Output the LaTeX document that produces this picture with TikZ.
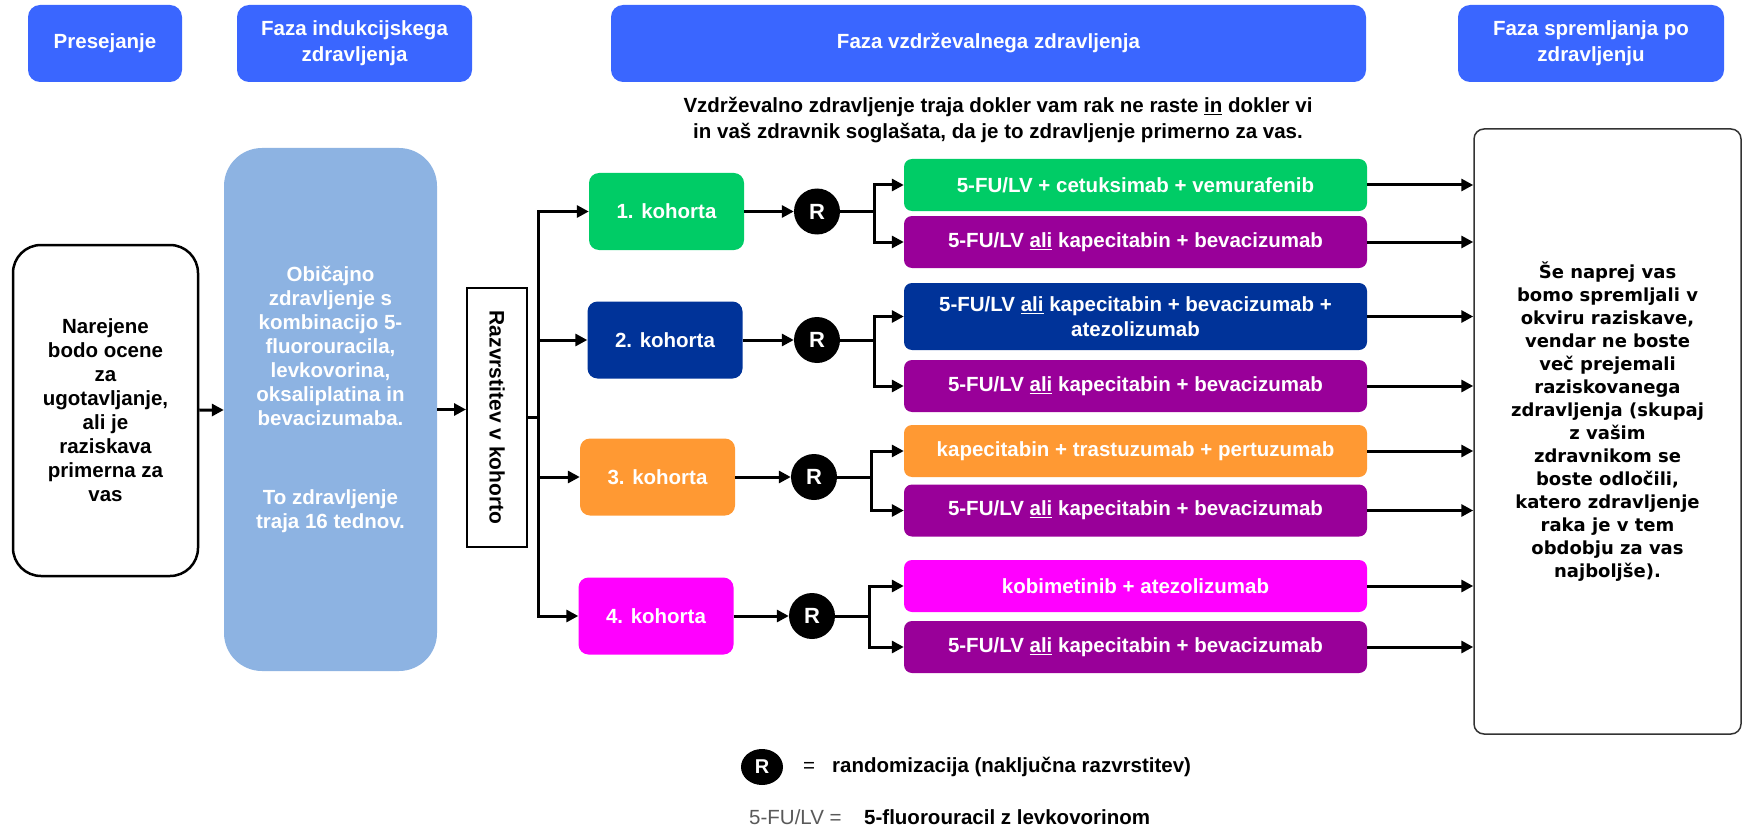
\documentclass[tikz,border=0pt]{standalone}
\usepackage{fontspec}
\setmainfont{Liberation Sans}
\newfontfamily\wideface{DejaVu Sans}
\usepackage{tikz}
\usetikzlibrary{shapes.geometric,arrows.meta,positioning,calc}

\definecolor{hdrblue}{HTML}{3A66FF}
\definecolor{indblue}{HTML}{8DB3E2}
\definecolor{cohgreen}{HTML}{00CC66}
\definecolor{cohblue}{HTML}{003399}
\definecolor{cohpurple}{HTML}{990099}
\definecolor{cohorange}{HTML}{FF9933}
\definecolor{cohmagenta}{HTML}{FF00FF}

\begin{document}
\begin{tikzpicture}[
  x=1pt, y=-1pt,
  every node/.style={font=\bfseries\fontsize{20.5}{25}\selectfont, inner sep=0pt},
  hdrbox/.style={fill=hdrblue, text=white, rounded corners=12pt, align=center, minimum height=77pt, font=\bfseries\fontsize{20.5}{26}\selectfont},
  cohbox/.style={rounded corners=10pt, text=white, minimum width=155pt, minimum height=77pt},
  trtbox/.style={rounded corners=8pt, text=white, align=center, minimum width=463pt, minimum height=52pt},
  rnd/.style={circle, fill=black, text=white, minimum size=46pt, font=\bfseries\fontsize{22}{22}\selectfont},
  arr/.style={-{Triangle[length=12pt,width=12pt]}, line width=3pt},
  ln/.style={line width=3pt}
]
\useasboundingbox (0,0) rectangle (1744,829);

\node[hdrbox, minimum width=154pt] (pres) at (105,43.5) {Presejanje};
\node[hdrbox, minimum width=235pt] (indh) at (354.5,43.5) {Faza indukcijskega\\zdravljenja};
\node[hdrbox, minimum width=755pt] (vzdh) at (988.5,43.5) {Faza vzdrževalnega zdravljenja};
\node[hdrbox, minimum width=266pt] (sprh) at (1591,43.5) {Faza spremljanja po\\zdravljenju};

\node[align=center, font=\bfseries\fontsize{20.5}{26}\selectfont] (note) at (998,120)
  {Vzdrževalno zdravljenje traja dokler vam rak ne raste \underline{in} dokler vi\\in vaš zdravnik soglašata, da je to zdravljenje primerno za vas.};

\node[draw, line width=2.5pt, rounded corners=28pt, minimum width=185pt, minimum height=331pt, align=center, font=\bfseries\fontsize{20.5}{24}\selectfont] (scr) at (105.5,410.5)
  {Narejene\\bodo ocene\\za\\ugotavljanje,\\ali je\\raziskava\\primerna za\\vas};
\node[fill=indblue, text=white, rounded corners=38pt, minimum width=213pt, minimum height=523pt, align=center, font=\bfseries\fontsize{20.5}{24}\selectfont] (ind) at (330.5,409.5)
  {Običajno\\zdravljenje s\\kombinacijo 5-\\fluorouracila,\\levkovorina,\\oksaliplatina in\\bevacizumaba.\\[55pt]To zdravljenje\\traja 16 tednov.\\\mbox{}};
\node[draw, line width=2pt, rotate=-90, minimum width=259pt, minimum height=60pt, font=\bfseries\fontsize{21}{25}\selectfont] (razv) at (497,417.5) {Razvrstitev v kohorto};
\coordinate (jn) at (538,417.5);

\node[cohbox, fill=cohgreen] (k1) at (666.5,211.5) {1. kohorta};
\node[cohbox, fill=cohblue] (k2) at (665,340) {2. kohorta};
\node[cohbox, fill=cohorange] (k3) at (657.5,477) {3. kohorta};
\node[cohbox, fill=cohmagenta] (k4) at (656,616) {4. kohorta};

\node[rnd] (r1) at (817,211.5) {R};
\node[rnd] (r2) at (817,340) {R};
\node[rnd] (r3) at (814,477) {R};
\node[rnd] (r4) at (812,616) {R};

\node[trtbox, fill=cohgreen] (ta1) at (1135.5,185) {5-FU/LV + cetuksimab + vemurafenib};
\node[trtbox, fill=cohpurple] (tb1) at (1135.5,242) {5-FU/LV \underline{ali} kapecitabin + bevacizumab};
\node[trtbox, fill=cohblue, minimum height=67pt] (ta2) at (1135.5,316.5) {5-FU/LV \underline{ali} kapecitabin + bevacizumab +\\atezolizumab};
\node[trtbox, fill=cohpurple] (tb2) at (1135.5,386) {5-FU/LV \underline{ali} kapecitabin + bevacizumab};
\node[trtbox, fill=cohorange] (ta3) at (1135.5,451) {kapecitabin + trastuzumab + pertuzumab};
\node[trtbox, fill=cohpurple] (tb3) at (1135.5,510.5) {5-FU/LV \underline{ali} kapecitabin + bevacizumab};
\node[trtbox, fill=cohmagenta] (ta4) at (1135.5,586) {kobimetinib + atezolizumab};
\node[trtbox, fill=cohpurple] (tb4) at (1135.5,647) {5-FU/LV \underline{ali} kapecitabin + bevacizumab};

\node[draw=black!80, line width=1.5pt, rounded corners=10pt, minimum width=267pt, minimum height=605pt, align=center, font=\wideface\bfseries\fontsize{18}{23}\selectfont] (fup) at (1607.5,431.5)
  {Še naprej vas\\bomo spremljali v\\okviru raziskave,\\vendar ne boste\\več prejemali\\raziskovanega\\zdravljenja (skupaj\\z vašim\\zdravnikom se\\boste odločili,\\katero zdravljenje\\raka je v tem\\obdobju za vas\\najboljše).\\\mbox{}};

\node[ellipse, fill=black, text=white, minimum width=42pt, minimum height=36pt, font=\bfseries\fontsize{20}{20}\selectfont] (lgr) at (762,767) {R};
\node[anchor=west, font=\fontsize{20.5}{25}\selectfont] (lgeq) at (803,767) {=\hspace{17pt}\textbf{randomizacija (naključna razvrstitev)}};
\node[anchor=west, font=\fontsize{20.5}{25}\selectfont, text=black!65] (lgfu) at (749,817) {5-FU/LV =};
\node[anchor=west] (lgtxt) at (864,817) {5-fluorouracil z levkovorinom};

\draw[arr] (scr) -- (ind);
\draw[arr] (ind) -- (ind -| razv.south);
\draw[ln] (razv.north) -- (jn);
\draw[arr] (jn |- k4) -- (jn |- k1) -- (k1);
\draw[arr] (jn |- k1) -- (jn |- k4) -- (k4);
\draw[arr] (jn |- k2) -- (k2);
\draw[arr] (jn |- k3) -- (k3);
\foreach \k in {1,...,4} {
  \draw[arr] (k\k) -- (r\k);
  \draw[arr] (r\k.east) -- ++(34,0) |- (ta\k);
  \draw[arr] (r\k.east) -- ++(34,0) |- (tb\k);
  \draw[arr] (ta\k) -- (ta\k -| fup.west);
  \draw[arr] (tb\k) -- (tb\k -| fup.west);
}
\end{tikzpicture}
\end{document}
